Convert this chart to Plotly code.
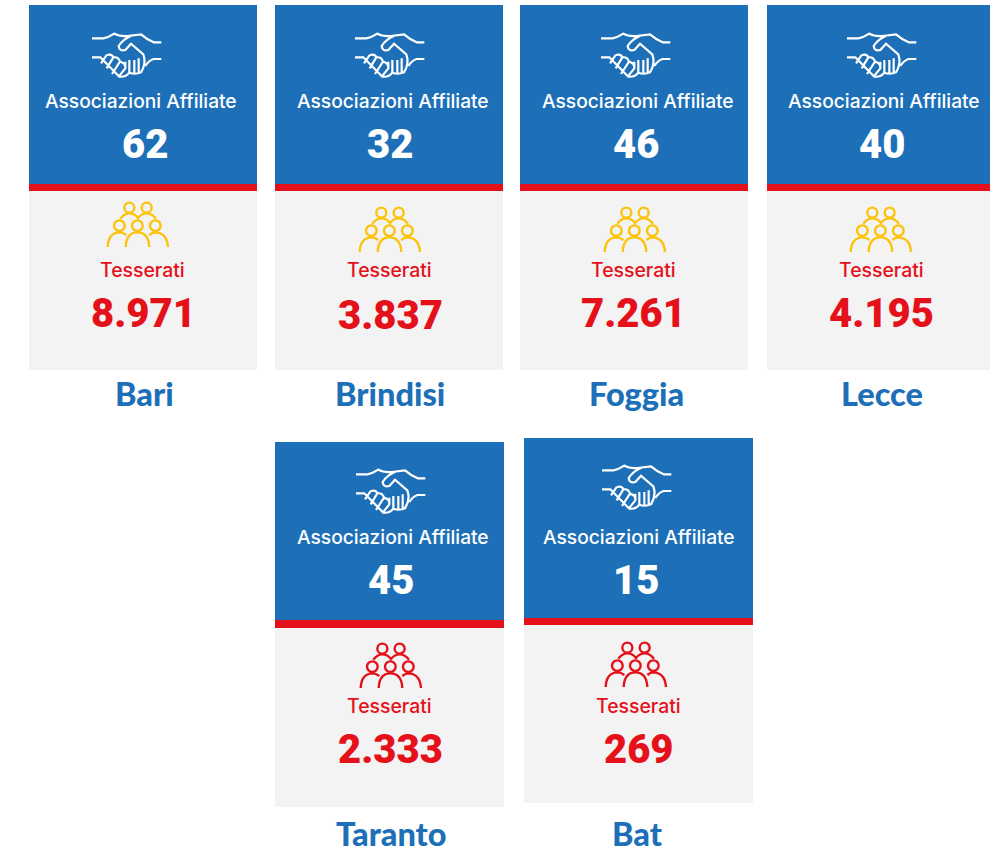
import plotly.graph_objects as go

# Data
names = ["Bari", "Brindisi", "Foggia", "Lecce", "Taranto", "Bat"]
affiliates = ["62", "32", "46", "40", "45", "15"]
members = ["8.971", "3.837", "7.261", "4.195", "2.333", "269"]
affiliate_label = "Associazioni Affiliate"
member_label = "Tesserati"

# Layout (pixels of the page)
BLUE, RED, GREY, YELLOW = "#1d70b8", "#e5111a", "#f3f3f3", "#fcc30b"
panel_x = [(29, 257), (275, 503), (520, 748), (767, 995), (275, 504), (524, 753)]
panel_y = [(5, 184, 191, 370)] * 4 + [(442, 620, 628, 807), (438, 618, 625, 803)]
label_cx = [141, 393, 638, 884, 393, 639]
value_cx = [145, 390, 636, 882, 391, 636]
tess_cx = [142.5, 389.5, 633.5, 881, 389.5, 638]
memb_cx = [143, 390, 633, 881, 390, 639]
name_cx = [144.5, 390, 636, 882, 391, 637]
label_y = [101, 101, 101, 101, 537, 537]
value_y = [144, 144, 144, 144, 580, 580]
tess_y = [270, 270, 270, 270, 706, 706]
memb_y = [313, 315, 313, 313, 749, 749]
name_y = [393, 393, 393, 393, 833, 833]
hand_xy = [(92, 32), (355, 32), (601, 32), (847, 32), (356, 468), (602, 464)]
people_xy = [(107, 202), (359, 207), (604, 207), (850, 207), (360, 643), (605, 642)]
people_col = [YELLOW] * 4 + [RED] * 2


def path(segments, ox, oy, zx, zy):
    """segments use zoomed (3x) coordinates relative to (zx, zy)."""
    out = []
    for cmd, *pts in segments:
        s = cmd
        for (a, b) in pts:
            s += f" {ox + (a - zx) / 3:.2f} {oy + (b - zy) / 3:.2f}"
        out.append(s)
    return " ".join(out)


HAND = [
    # top line
    ("M", (218, 115)), ("L", (252, 115)), ("Q", (268, 112), (285, 101)),
    ("Q", (300, 110), (325, 108)), ("L", (365, 103)), ("Q", (385, 120), (403, 127)), ("L", (426, 127)),
    # upper hand
    ("M", (336, 107)), ("Q", (310, 118), (298, 138)), ("Q", (300, 155), (318, 150)),
    ("L", (335, 131)), ("L", (372, 163)), ("Q", (382, 190), (365, 217)), ("Q", (348, 224), (330, 218)),
    # lower right line
    ("M", (378, 198)), ("Q", (390, 180), (403, 177)), ("L", (426, 177)),
    # lower left
    ("M", (218, 172)), ("L", (243, 172)), ("L", (300, 230)), ("Q", (320, 232), (330, 218)),
    # fingers
    ("M", (262, 165)), ("L", (245, 190)),
    ("M", (262, 165)), ("Q", (278, 160), (282, 172)), ("L", (262, 205)),
    ("M", (282, 172)), ("Q", (298, 170), (302, 185)), ("L", (278, 222)),
    ("M", (302, 185)), ("Q", (320, 190), (318, 205)), ("L", (298, 230)),
    # finger tips on the right
    ("M", (318, 185)), ("L", (318, 205)),
    ("M", (330, 180)), ("L", (330, 218)),
    ("M", (345, 180)), ("L", (345, 220)),
    ("M", (358, 175)), ("L", (358, 220)),
]

PEOPLE_ARCS = [
    ("M", (262, 171)), ("Q", (264, 128), (297, 127)), ("Q", (308, 127), (318, 135)),
    ("M", (316, 171)), ("Q", (318, 127), (351, 127)), ("Q", (385, 127), (387, 171)),
    ("M", (387, 135)), ("Q", (396, 127), (405, 127)), ("Q", (440, 128), (443, 171)),
    ("M", (300, 86)), ("Q", (312, 70), (327, 70)), ("Q", (343, 70), (353, 84)),
    ("Q", (364, 70), (379, 70)), ("Q", (395, 70), (407, 86)),
]
PEOPLE_HEADS = [(327, 53, 15), (379, 53, 15), (297, 107, 16), (351, 107, 16), (405, 107, 16)]

shapes, annotations = [], []


def text(x, y, s, size, color, family, weight=400):
    annotations.append(dict(
        x=x, y=y, xref="x", yref="y", text=s, showarrow=False,
        xanchor="center", yanchor="middle",
        font=dict(size=size, color=color, family=family, weight=weight),
    ))


def rect(x0, x1, y0, y1, color):
    shapes.append(dict(type="rect", xref="x", yref="y", x0=x0, x1=x1, y0=y0, y1=y1,
                       fillcolor=color, line=dict(width=0), layer="below"))


for i in range(len(names)):
    x0, x1 = panel_x[i]
    top, red_top, grey_top, bottom = panel_y[i]
    rect(x0, x1, top, red_top, BLUE)
    rect(x0, x1, red_top, grey_top, RED)
    rect(x0, x1, grey_top, bottom, GREY)

    hx, hy = hand_xy[i]
    shapes.append(dict(type="path", xref="x", yref="y",
                       path=path(HAND, hx, hy, 218, 96),
                       line=dict(color="white", width=2.2)))

    px, py = people_xy[i]
    col = people_col[i]
    shapes.append(dict(type="path", xref="x", yref="y",
                       path=path(PEOPLE_ARCS, px, py, 260, 36),
                       line=dict(color=col, width=2.4)))
    for cx, cy, r in PEOPLE_HEADS:
        ax, ay = px + (cx - 260) / 3, py + (cy - 36) / 3
        rr = r / 3
        shapes.append(dict(type="circle", xref="x", yref="y",
                           x0=ax - rr, x1=ax + rr, y0=ay - rr, y1=ay + rr,
                           line=dict(color=col, width=2.4)))

    text(label_cx[i], label_y[i], affiliate_label, 19.2, "white", "Inter", 500)
    text(value_cx[i], value_y[i], affiliates[i], 40, "white", "Roboto", 900)
    text(tess_cx[i], tess_y[i], member_label, 19.4, RED, "Inter", 500)
    text(memb_cx[i], memb_y[i], members[i], 40, RED, "Roboto", 900)
    text(name_cx[i], name_y[i], names[i], 32.5, BLUE, "Lato", 900)

fig = go.Figure()
fig.update_layout(
    width=990, height=853, margin=dict(l=0, r=0, t=0, b=0),
    paper_bgcolor="white", plot_bgcolor="white", showlegend=False,
    xaxis=dict(range=[0, 990], visible=False, fixedrange=True),
    yaxis=dict(range=[853, 0], visible=False, fixedrange=True),
    shapes=shapes, annotations=annotations,
)
fig.write_html("out.html", config={"displayModeBar": False},
               post_script="document.body.style.margin='0';document.documentElement.style.overflow='hidden';")
